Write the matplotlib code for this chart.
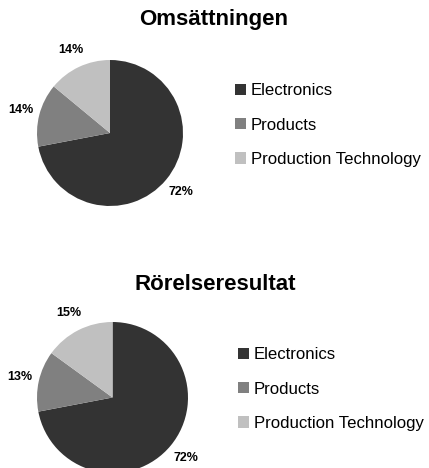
import matplotlib.pyplot as plt
from matplotlib.patches import Patch

plt.rcParams['font.family'] = ['Liberation Sans', 'DejaVu Sans']

segments = ["Electronics", "Products", "Production Technology"]
colors = ["#333333", "#808080", "#c0c0c0"]

oms_title = "Omsättningen"
oms_values = [72, 14, 14]

ror_title = "Rörelseresultat"
ror_values = [72, 13, 15]

W, H = 429, 468
fig = plt.figure(figsize=(W / 100, H / 100), dpi=100)


def px_axes(x0, y0, x1, y1):
    # pixel box (top-left origin) -> figure fraction axes
    return fig.add_axes([x0 / W, 1 - y1 / H, (x1 - x0) / W, (y1 - y0) / H])


def draw_pie(box, values, title, title_xy, legend_xy):
    ax = px_axes(*box)
    ax.pie(values, colors=colors, startangle=90, counterclock=False,
           autopct='%.0f%%', pctdistance=1.26,
           textprops=dict(fontsize=9, fontweight='bold', color='black'),
           wedgeprops=dict(linewidth=0))
    ax.set_xlim(-1, 1)
    ax.set_ylim(-1, 1)
    ax.set_aspect('equal')
    ax.axis('off')
    fig.text(title_xy[0] / W, 1 - title_xy[1] / H, title, ha='center', va='center',
             fontsize=16, fontweight='bold')
    handles = [Patch(facecolor=c, edgecolor='none') for c in colors]
    fig.legend(handles, segments, loc='center left',
               bbox_to_anchor=(legend_xy[0] / W, 1 - legend_xy[1] / H),
               frameon=False, fontsize=12.1, borderpad=0, borderaxespad=0,
               handlelength=0.65, handleheight=0.65, handletextpad=0.3,
               labelspacing=1.15)


draw_pie((37, 60, 183, 206), oms_values, oms_title, (214, 19), (235, 125))
draw_pie((37, 322, 188, 473), ror_values, ror_title, (215, 284), (238, 389))

fig.savefig("out.png", dpi=100)
